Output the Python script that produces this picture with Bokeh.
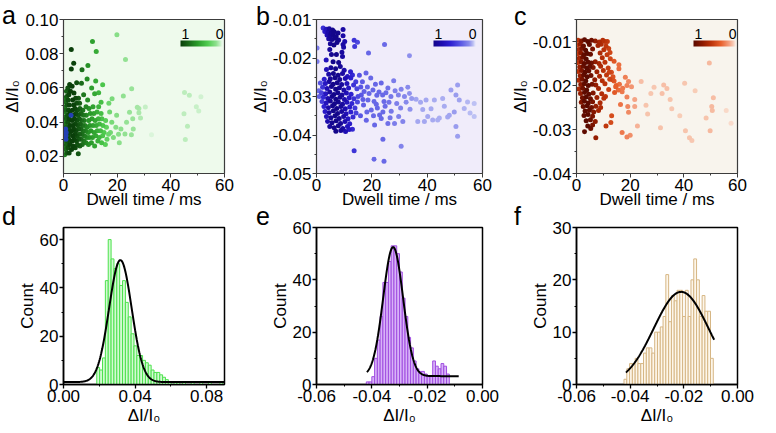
import numpy as np
from bokeh.plotting import figure
from bokeh.models import (LinearColorMapper, ColorBar, Label, FixedTicker, GridBox, Div,
                          NumeralTickFormatter, ColumnDataSource, Range1d)
from bokeh.embed import file_html
from bokeh.resources import INLINE

FONT = "Liberation Sans"

# ---------------- data: scatter panels (dwell time ms, dI/I0) ----------------
a_core = [(0.4,0.021),(1.3,0.022),(2.1,0.022),(0.8,0.024),(1.7,0.025),(0.3,0.026),(1.1,0.027),(2.4,0.027),
          (0.6,0.029),(1.5,0.029),(2.0,0.030),(0.2,0.031),(1.0,0.031),(1.8,0.032),(0.5,0.033),(1.4,0.034),
          (2.3,0.034),(0.8,0.035),(1.9,0.036),(0.3,0.037),(1.2,0.037),(2.5,0.038),(0.7,0.039),(1.6,0.040),
          (0.2,0.041),(1.1,0.042),(2.1,0.042),(0.6,0.043),(1.5,0.044),(2.4,0.045),(0.3,0.046),(1.0,0.047),
          (1.9,0.047),(0.5,0.049),(1.4,0.050),(2.2,0.050),(0.8,0.052),(1.7,0.053),(0.3,0.054),(1.2,0.055),
          (2.0,0.056),(2.6,0.058),(1.6,0.060),(2.3,0.062),(2.9,0.0825),(3.8,0.0745),(2.9,0.071),(1.1,0.058)]
a_mid = [(3.0,0.024),(3.6,0.026),(4.4,0.025),(5.5,0.0215),(5.2,0.027),(6.1,0.026),(7.0,0.027),(3.2,0.029),
         (4.0,0.030),(4.8,0.029),(5.7,0.030),(6.6,0.030),(7.6,0.029),(8.4,0.028),(3.4,0.032),(4.3,0.033),
         (5.1,0.032),(6.0,0.033),(6.9,0.033),(7.8,0.032),(8.7,0.031),(3.1,0.035),(3.9,0.036),(4.7,0.035),
         (5.6,0.036),(6.4,0.036),(7.3,0.035),(8.2,0.035),(3.5,0.038),(4.4,0.039),(5.3,0.038),(6.2,0.039),
         (7.1,0.038),(8.0,0.038),(8.8,0.037),(3.2,0.041),(4.1,0.042),(5.0,0.041),(5.9,0.042),(6.8,0.041),
         (7.7,0.041),(3.7,0.044),(4.6,0.045),(5.5,0.044),(6.5,0.045),(7.4,0.044),(8.5,0.044),(3.3,0.047),
         (4.3,0.048),(5.2,0.047),(6.1,0.048),(7.2,0.047),(3.8,0.050),(4.9,0.051),(6.0,0.051),(8.4,0.049),
         (3.4,0.053),(4.5,0.054),(5.6,0.054),(3.9,0.057),(4.9,0.063),(6.7,0.0628),(8.8,0.0653),(6.9,0.0706),
         (9.1,0.0731),(7.5,0.056),(3.2,0.061)]
a_light = [(9.3,0.027),(10.4,0.028),(11.6,0.026),(12.8,0.029),(14.2,0.028),(15.6,0.027),(9.6,0.031),(10.8,0.031),
           (12.0,0.032),(13.3,0.031),(14.6,0.032),(16.2,0.030),(9.2,0.034),(10.2,0.035),(11.4,0.034),(12.6,0.035),
           (13.8,0.035),(15.1,0.034),(16.8,0.033),(9.8,0.038),(11.0,0.038),(12.2,0.038),(13.4,0.039),(14.7,0.038),
           (16.0,0.037),(9.4,0.041),(10.6,0.042),(11.8,0.041),(13.0,0.042),(14.3,0.042),(15.7,0.041),(10.0,0.045),
           (11.3,0.045),(12.5,0.046),(14.0,0.045),(9.5,0.048),(11.0,0.049),(13.1,0.049),(16.9,0.0511),(14.0,0.0517),
           (18.1,0.0537),(11.6,0.0566),(13.1,0.0572),(9.0,0.053),(10.5,0.060),(12.0,0.0640),(14.6,0.0618),
           (10.8,0.0871),(12.2,0.0813)]
a_tail = [(17.5,0.034),(18.6,0.031),(19.5,0.037),(18.0,0.040),(20.5,0.033),(21.4,0.036),(19.8,0.044),(22.9,0.0331),
          (25.3,0.0327),(22.3,0.0553),(19.9,0.0911),(23.1,0.0766),(25.4,0.0595),(27.5,0.0487),(28.1,0.0455),
          (24.6,0.0458),(25.8,0.0420),(28.7,0.0425),(30.5,0.0488),(32.8,0.0327),(28.1,0.0480),(45.1,0.0573),
          (46.9,0.0557),(51.2,0.0549),(49.5,0.0490),(44.9,0.0449),(50.4,0.0465),(46.2,0.0376),(45.4,0.0298),
          (17.2,0.046),(20.8,0.028),(23.5,0.040),(26.0,0.036)]
a_blue = [(0.9,0.030),(0.9,0.032),(1.0,0.034),(0.8,0.036),(2.8,0.044)]

b_top = [(2.4,-0.0122),(3.5,-0.0125),(4.6,-0.0124),(5.8,-0.0127),(3.0,-0.0131),(4.2,-0.0133),(5.3,-0.0135),
         (6.4,-0.0132),(7.8,-0.0135),(9.6,-0.0126),(3.8,-0.0140),(4.9,-0.0142),(6.0,-0.0141),(7.1,-0.0144),
         (9.6,-0.0142),(4.4,-0.0150),(5.6,-0.0152),(6.8,-0.0149),(8.0,-0.0153),(10.2,-0.0157),(13.6,-0.0154),
         (14.8,-0.0159),(13.8,-0.0170),(9.6,-0.0165),(5.0,-0.0163),(6.3,-0.0166),(7.4,-0.0160),(4.8,-0.0178),
         (9.8,-0.0172),(5.4,-0.0191),(7.2,-0.0191),(9.2,-0.0185),(9.4,-0.0196),(3.5,-0.0205),(6.0,-0.0210),
         (8.0,-0.0212)]
b_core = [(3.6,-0.0230),(5.2,-0.0225),(6.9,-0.0228),(8.6,-0.0222),(10.0,-0.0232),(12.3,-0.0236),
          (4.4,-0.0242),(6.1,-0.0240),(7.8,-0.0245),(9.4,-0.0240),(11.2,-0.0248),(13.0,-0.0244),
          (2.8,-0.0255),(5.0,-0.0254),(6.7,-0.0251),(8.4,-0.0256),(10.4,-0.0253),(12.4,-0.0252),(14.2,-0.0262),
          (1.4,-0.0265),(3.2,-0.0266),(4.6,-0.0262),(6.0,-0.0268),(7.5,-0.0264),(9.1,-0.0269),(11.0,-0.0266),
          (13.4,-0.0270),(2.2,-0.0276),(3.8,-0.0279),(5.4,-0.0274),(6.9,-0.0281),(8.3,-0.0277),(9.9,-0.0283),
          (11.6,-0.0278),(14.6,-0.0280),(1.8,-0.0290),(3.3,-0.0293),(4.8,-0.0288),(6.3,-0.0295),(7.7,-0.0290),
          (9.2,-0.0296),(10.8,-0.0291),(12.5,-0.0294),(2.5,-0.0302),(4.1,-0.0305),(5.6,-0.0300),(7.0,-0.0307),
          (8.5,-0.0302),(10.1,-0.0308),(11.8,-0.0303),(13.5,-0.0306),(15.0,-0.0300),(2.0,-0.0313),(3.5,-0.0317),
          (5.0,-0.0312),(6.5,-0.0319),(7.9,-0.0314),(9.4,-0.0320),(11.0,-0.0315),(12.8,-0.0318),(14.8,-0.0314),
          (2.7,-0.0326),(4.3,-0.0329),(5.8,-0.0324),(7.3,-0.0331),(8.8,-0.0326),(10.4,-0.0332),(12.0,-0.0327),
          (13.9,-0.0330),(3.1,-0.0339),(4.6,-0.0342),(6.1,-0.0337),(7.6,-0.0344),(9.1,-0.0339),(10.7,-0.0345),
          (12.4,-0.0340),(14.3,-0.0343),(3.6,-0.0352),(5.2,-0.0355),(6.7,-0.0350),(8.2,-0.0357),(9.8,-0.0352),
          (11.4,-0.0358),(13.2,-0.0353),(4.0,-0.0365),(5.6,-0.0368),(7.1,-0.0363),(8.7,-0.0370),(10.3,-0.0365),
          (12.0,-0.0371),(4.8,-0.0378),(6.4,-0.0381),(7.9,-0.0376),(9.5,-0.0383),(11.2,-0.0378),(7.0,-0.0390),
          (8.8,-0.0388),(10.5,-0.0391),(11.8,-0.0386),(13.0,-0.0385),(0.8,-0.0285),(1.0,-0.0300)]
b_mid = [(15.5,-0.0245),(17.9,-0.0239),(16.6,-0.0262),(18.4,-0.0275),(19.6,-0.0252),(21.3,-0.0268),(23.4,-0.0265),
         (25.8,-0.0278),(27.9,-0.0259),(30.6,-0.0281),(33.0,-0.0276),(33.6,-0.0292),(31.8,-0.0300),(26.9,-0.0300),
         (24.4,-0.0313),(20.8,-0.0313),(18.6,-0.0309),(16.2,-0.0296),(17.0,-0.0322),(19.8,-0.0335),(22.0,-0.0330),
         (22.8,-0.0348),(23.4,-0.0357),(25.8,-0.0370),(28.2,-0.0370),(29.7,-0.0352),(27.0,-0.0338),(31.2,-0.0365),
         (33.8,-0.0333),(15.9,-0.0350),(18.0,-0.0362),(21.0,-0.0374),(24.8,-0.0325),(29.0,-0.0318),(16.0,-0.0275),
         (17.2,-0.0287),(19.0,-0.0292),(20.4,-0.0283),(21.8,-0.0297),(22.6,-0.0288),(23.9,-0.0296),(25.1,-0.0290),
         (26.2,-0.0315),(28.4,-0.0285),(29.6,-0.0296),(30.4,-0.0330),(32.4,-0.0315),(34.4,-0.0305),(18.2,-0.0340),
         (20.6,-0.0350),(16.8,-0.0308),(21.6,-0.0320),(24.0,-0.0340),(26.6,-0.0355)]
b_far = [(36.0,-0.0307),(37.6,-0.0315),(39.6,-0.0309),(42.6,-0.0309),(45.6,-0.0305),(48.6,-0.0283),(51.0,-0.0270),
         (50.4,-0.0296),(51.6,-0.0309),(54.6,-0.0314),(57.0,-0.0318),(53.4,-0.0331),(49.8,-0.0340),(47.4,-0.0353),
         (43.8,-0.0361),(40.2,-0.0352),(36.6,-0.0365),(39.0,-0.0365),(42.0,-0.0361),(44.4,-0.0356),(48.0,-0.0349),
         (50.4,-0.0378),(51.0,-0.0403),(55.5,-0.0343),(57.0,-0.0352),(38.4,-0.0334),(46.2,-0.0325),(41.4,-0.0332)]
b_out = [(0.2,-0.0174),(0.2,-0.0209),(24.6,-0.0165),(18.8,-0.0187),(33.6,-0.0194),(13.6,-0.0441),(20.8,-0.0463),
         (24.4,-0.0468),(24.0,-0.0411),(30.6,-0.0429)]

c_core = [(0.6,-0.0097),(1.8,-0.0099),(3.0,-0.0096),(4.2,-0.0100),(5.6,-0.0097),(7.0,-0.0099),(8.5,-0.0101),
          (9.8,-0.0097),(10.6,-0.0100),(0.3,-0.0108),(1.4,-0.0106),(2.6,-0.0110),(4.8,-0.0107),(8.0,-0.0109),
          (9.2,-0.0106),(11.0,-0.0110),(0.9,-0.0118),(2.0,-0.0116),(3.4,-0.0120),(6.0,-0.0117),(10.2,-0.0119),
          (12.0,-0.0116),(0.4,-0.0128),(1.6,-0.0126),(2.8,-0.0130),(4.0,-0.0127),(5.2,-0.0129),(8.8,-0.0126),
          (11.4,-0.0130),(1.0,-0.0138),(2.3,-0.0136),(3.6,-0.0140),(9.6,-0.0137),(12.6,-0.0139),(0.5,-0.0148),
          (1.8,-0.0146),(3.0,-0.0150),(4.4,-0.0147),(5.6,-0.0149),(7.0,-0.0146),(8.4,-0.0150),(10.6,-0.0147),
          (1.2,-0.0158),(2.5,-0.0156),(3.8,-0.0160),(5.0,-0.0157),(6.2,-0.0159),(9.0,-0.0156),(11.8,-0.0160),
          (0.6,-0.0168),(1.9,-0.0166),(3.2,-0.0170),(4.6,-0.0167),(7.6,-0.0169),(10.0,-0.0166),(13.0,-0.0170),
          (1.4,-0.0178),(2.7,-0.0176),(4.0,-0.0180),(5.4,-0.0177),(8.6,-0.0179),(11.2,-0.0176),(13.6,-0.0180),
          (0.8,-0.0188),(2.1,-0.0186),(3.5,-0.0190),(6.8,-0.0187),(9.6,-0.0189),(12.4,-0.0186),(14.0,-0.0190),
          (1.6,-0.0198),(2.9,-0.0196),(4.4,-0.0200),(5.8,-0.0197),(7.2,-0.0199),(10.6,-0.0196),(14.8,-0.0200),
          (16.0,-0.0197),(0.9,-0.0208),(2.3,-0.0206),(3.8,-0.0210),(8.2,-0.0207),(12.0,-0.0209),(17.2,-0.0206),
          (1.5,-0.0218),(3.0,-0.0216),(4.6,-0.0220),(6.2,-0.0217),(9.4,-0.0219),(14.2,-0.0216),(2.2,-0.0228),
          (3.6,-0.0226),(5.2,-0.0230),(7.6,-0.0227),(10.2,-0.0229),(1.8,-0.0238),(3.0,-0.0236),(4.4,-0.0240),
          (6.0,-0.0237),(8.8,-0.0239),(2.5,-0.0248),(4.0,-0.0246),(5.6,-0.0250),(7.2,-0.0247),(3.2,-0.0258),
          (4.8,-0.0256),(6.4,-0.0260),(8.2,-0.0257),(2.8,-0.0268),(4.3,-0.0266),(6.0,-0.0270),(3.6,-0.0280),
          (5.2,-0.0278),(7.0,-0.0282),(4.2,-0.0292),(6.0,-0.0290),(3.0,-0.0305),(5.3,-0.0298),(7.2,-0.0319)]
c_tail = [(15.8,-0.0153),(15.8,-0.0162),(18.2,-0.0181),(19.4,-0.0191),(13.4,-0.0187),(14.6,-0.0203),(15.6,-0.0210),
          (17.0,-0.0214),(18.8,-0.0200),(20.5,-0.0203),(18.8,-0.0226),(16.4,-0.0243),(19.1,-0.0248),(19.4,-0.0261),
          (13.1,-0.0269),(12.8,-0.0284),(11.0,-0.0292),(17.0,-0.0307),(18.8,-0.0317),(20.0,-0.0313),(21.7,-0.0232),
          (21.7,-0.0248),(22.7,-0.0292),(24.1,-0.0191),(25.9,-0.0245),(26.5,-0.0265),(27.7,-0.0218),(28.9,-0.0204),
          (31.9,-0.0218),(32.5,-0.0199),(33.7,-0.0207),(31.3,-0.0296),(34.9,-0.0232),(35.5,-0.0253),(38.5,-0.0269),
          (40.3,-0.0195),(40.6,-0.0303),(42.1,-0.0319),(43.0,-0.0325),(44.2,-0.0212),(48.3,-0.0274),(49.5,-0.0149),
          (49.8,-0.0303),(50.4,-0.0248),(50.6,-0.0257),(51.0,-0.0228),(55.8,-0.0257),(57.6,-0.0286),(11.5,-0.0100),
          (12.5,-0.0125),(14.0,-0.0145),(12.2,-0.0170),(10.8,-0.0225),(9.0,-0.0250)]

# ---------------- data: histograms ----------------
d_bin_start, d_bin_width = 0.0186, 0.0016
d_counts = [7, 6, 11, 43, 60, 52, 48, 50, 41, 43, 34, 28, 21, 16, 12, 12, 10, 9, 8, 6, 5, 5, 4, 3, 2, 1, 0, 1, 1, 0,
            1, 0, 0, 1, 0, 0, 1, 0, 0, 1, 0, 0, 0, 1]
e_bin_start, e_bin_width = -0.0420, 0.0010
e_counts = [1, 1, 3, 10, 17, 26, 39, 39, 47, 53, 53, 50, 43, 33, 26, 18, 14, 9, 6, 5, 5, 4, 3, 3, 9, 7, 6, 8, 7, 4]
f_bin_start, f_bin_width = -0.0423, 0.00104
f_counts = [1, 3, 4, 4, 5, 4, 4, 6, 7, 7, 6, 10, 10, 11, 13, 21, 12, 17, 16, 18, 18, 13, 18, 13, 20, 24, 20, 13,
            17, 14, 14, 5]
# Gaussian fit parameters: (y0, amplitude, centre, sigma, x_from, x_to)
d_fit = (1.0, 50.5, 0.0318, 0.0063, 0.0, 0.09)
e_fit = (3.2, 49.3, -0.0323, 0.0036, -0.0418, -0.0086)
f_fit = (0.0, 17.7, -0.0210, 0.0102, -0.0416, -0.0087)

TOP_H, BOT_H = 211, 216
TOP_BT, TOP_BB = 19, 38
BOT_BT, BOT_BB = 16, 40


def ramp(stops, n=256):
    pos = [s[0] for s in stops]
    rgb = np.array([[int(s[1][i:i + 2], 16) for i in (1, 3, 5)] for s in stops], float)
    t = np.linspace(0, 1, n)
    ch = [np.interp(t, pos, rgb[:, k]) for k in range(3)]
    return ["#%02x%02x%02x" % (int(round(r)), int(round(g)), int(round(b))) for r, g, b in zip(*ch)]


def x_density(xs, h=2.0):
    x = np.asarray(xs, float)
    d = np.exp(-(x[:, None] - x[None, :]) ** 2 / (2 * h * h)).sum(axis=1)
    return d / d.max()


def style(p, col, xlabel_standoff, tick_px="17px"):
    for ax in (p.xaxis[0], p.yaxis[0]):
        ax.axis_line_color = col
        ax.major_tick_line_color = col
        ax.minor_tick_line_color = col
        ax.major_tick_out = 4
        ax.major_tick_in = 0
        ax.minor_tick_out = 2
        ax.minor_tick_in = 0
        ax.major_label_text_font = FONT
        ax.major_label_text_font_size = tick_px
        ax.major_label_text_color = "black"
        ax.axis_label_text_font = FONT
        ax.axis_label_text_font_size = "17px"
        ax.axis_label_text_font_style = "normal"
        ax.axis_label_text_color = "black"
        ax.major_label_standoff = 1
    p.xaxis[0].axis_label_standoff = xlabel_standoff
    p.yaxis[0].axis_label_standoff = 0
    p.grid.visible = False


def scatter_panel(groups, stops, bg, yr, yticks, yminor, width, bl, br, extra=None):
    pts = [pt for g in groups for pt in g]
    xs = [pt[0] for pt in pts]
    ys = [pt[1] for pt in pts]
    pal = ramp(stops)
    p = figure(width=width, height=TOP_H, x_range=Range1d(0, 60), y_range=Range1d(*yr),
               output_backend="svg", toolbar_location=None,
               min_border_left=bl, min_border_right=br, min_border_top=TOP_BT, min_border_bottom=TOP_BB)
    p.background_fill_color = bg
    p.outline_line_color = "#3c3c3c"
    p.outline_line_width = 1.2
    lvl = x_density(xs)
    order = np.argsort(lvl)
    src = ColumnDataSource(dict(x=list(np.array(xs)[order]), y=list(np.array(ys)[order]),
                                lvl=list(lvl[order])))
    mapper = LinearColorMapper(palette=pal, low=0, high=1)
    p.scatter('x', 'y', source=src, size=5, fill_color={'field': 'lvl', 'transform': mapper}, line_color=None)
    if extra:
        p.scatter([q[0] for q in extra], [q[1] for q in extra], size=5, fill_color="#2440b4", line_color=None)
    p.xaxis.ticker = FixedTicker(ticks=[0, 20, 40, 60], minor_ticks=[10, 30, 50])
    p.yaxis.ticker = FixedTicker(ticks=yticks, minor_ticks=yminor)
    p.yaxis.formatter = NumeralTickFormatter(format="0.00")
    p.xaxis.axis_label = "Dwell time / ms"
    p.yaxis.axis_label = "ΔI/I₀"
    style(p, "#3c3c3c", -4)
    fh = TOP_H - TOP_BT - TOP_BB
    cb = ColorBar(color_mapper=LinearColorMapper(palette=pal[::-1], low=0, high=1), orientation="horizontal",
                  location=(117, fh - 27), width=42, height=6, padding=0, ticker=FixedTicker(ticks=[]),
                  major_label_text_font_size="0px", major_tick_line_color=None, minor_tick_line_color=None,
                  bar_line_color=None, border_line_color=None, background_fill_alpha=0, label_standoff=0)
    p.add_layout(cb)
    for txt, xx, al in (("1", 118, "left"), ("0", 160, "right")):
        p.add_layout(Label(x=xx, y=fh - 19, x_units="screen", y_units="screen", text=txt, text_align=al,
                           text_baseline="bottom", text_font=FONT, text_font_size="14px", text_color="black"))
    return p


def hist_panel(start, bw, counts, fill, line, xr, yr, xticks, xminor, yticks, yminor, fit, width, bl, br):
    n = len(counts)
    left = start + bw * np.arange(n)
    p = figure(width=width, height=BOT_H, x_range=Range1d(*xr), y_range=Range1d(*yr),
               output_backend="svg", toolbar_location=None,
               min_border_left=bl, min_border_right=br, min_border_top=BOT_BT, min_border_bottom=BOT_BB)
    p.background_fill_color = "white"
    p.outline_line_color = "black"
    p.outline_line_width = 1.5
    p.quad(left=left, right=left + bw, bottom=0, top=counts, fill_color=fill, line_color=line, line_width=1)
    y0, amp, xc, sg, lo, hi = fit
    fx = np.linspace(lo, hi, 300)
    p.line(fx, y0 + amp * np.exp(-(fx - xc) ** 2 / (2 * sg * sg)), line_color="black", line_width=2)
    p.xaxis.ticker = FixedTicker(ticks=xticks, minor_ticks=xminor)
    p.yaxis.ticker = FixedTicker(ticks=yticks, minor_ticks=yminor)
    p.xaxis.formatter = NumeralTickFormatter(format="0.00")
    p.xaxis.axis_label = "ΔI/I₀"
    p.yaxis.axis_label = "Count"
    style(p, "black", 1)
    for ax in (p.xaxis[0], p.yaxis[0]):
        ax.axis_line_width = 1.5
        ax.major_tick_line_width = 1.3
    return p


def letter(t, dx, dy):
    return Div(text=t, width=22, height=26,
               styles={"font-family": FONT, "font-size": "25px", "line-height": "24px", "color": "black",
                       "transform": "translate(%dpx, %dpx)" % (dx, dy), "pointer-events": "none"})


green = [(0, "#f0fbf0"), (0.05, "#c8f0c8"), (0.15, "#8ee08e"), (0.35, "#50cc50"), (0.6, "#2a9a2a"),
         (0.8, "#1a6a1a"), (1, "#0a3f0a")]
blue = [(0, "#eeeefc"), (0.05, "#c0c4f4"), (0.15, "#8a8cec"), (0.35, "#5a58e4"), (0.6, "#2e20d0"),
        (0.8, "#1e0cb0"), (1, "#14068a")]
red = [(0, "#fbece4"), (0.05, "#f8cdb8"), (0.15, "#f4a080"), (0.35, "#e8602c"), (0.6, "#b83008"),
       (0.8, "#8a1800"), (1, "#5a0a00")]

pa = scatter_panel([a_core, a_mid, a_light, a_tail], green, "#eefaec", (0.01, 0.10),
                   [0.02, 0.04, 0.06, 0.08, 0.10], [0.03, 0.05, 0.07, 0.09], 247, 54, 23, extra=a_blue)
pb = scatter_panel([b_top, b_core, b_mid, b_far, b_out], blue, "#f0ecfa", (-0.05, -0.01),
                   [-0.05, -0.04, -0.03, -0.02, -0.01], [-0.045, -0.035, -0.025, -0.015], 260, 68, 25)
pc = scatter_panel([c_core, c_tail], red, "#f8f4ed", (-0.04, -0.005),
                   [-0.04, -0.03, -0.02, -0.01], [-0.035, -0.025, -0.015, -0.005], 253, 63, 23)

pd = hist_panel(d_bin_start, d_bin_width, d_counts, "#d2fad2", "#4de24d", (0, 0.09), (0, 65),
                [0, 0.04, 0.08], [0.02, 0.06], [0, 20, 40, 60], [10, 30, 50], d_fit, 247, 43, 15)
pe = hist_panel(e_bin_start, e_bin_width, e_counts, "#d8b2f8", "#a04ee0", (-0.06, 0), (0, 60),
                [-0.06, -0.04, -0.02, 0], [-0.05, -0.03, -0.01], [0, 20, 40, 60], [10, 30, 50], e_fit, 260, 52, 17)
pf = hist_panel(f_bin_start, f_bin_width, f_counts, "#fdf6ea", "#d6b684", (-0.06, 0), (0, 30),
                [-0.06, -0.04, -0.02, 0], [-0.05, -0.03, -0.01], [0, 10, 20, 30], [5, 15, 25], f_fit, 253, 51, 11)

grid = GridBox(children=[(pa, 0, 0), (pb, 0, 1), (pc, 0, 2), (pd, 1, 0), (pe, 1, 1), (pf, 1, 2),
                         (letter("a", -3, -2), 0, 0), (letter("b", 4, -1), 0, 1), (letter("c", 2, -1), 0, 2),
                         (letter("d", -3, -12), 1, 0), (letter("e", 4, -12), 1, 1), (letter("f", 2, -12), 1, 2)],
               spacing=0)
open("out.html", "w").write(file_html(grid, INLINE))
